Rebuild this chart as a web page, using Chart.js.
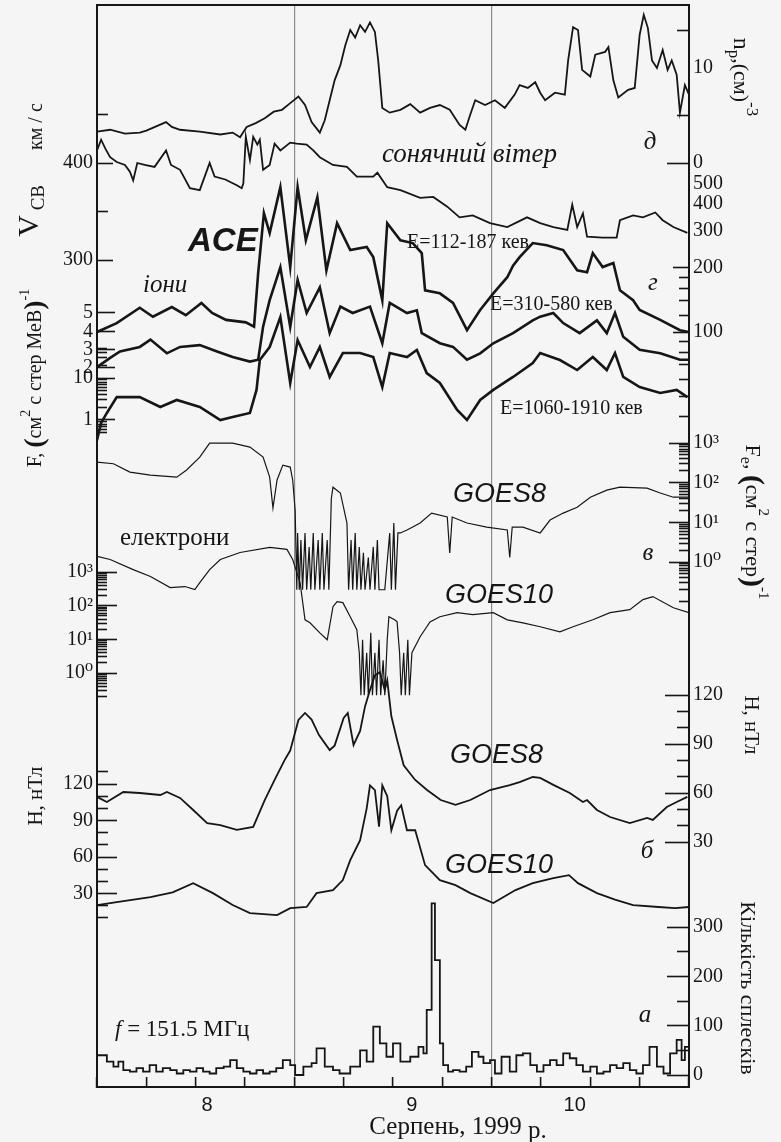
<!DOCTYPE html>
<html lang="uk">
<head>
<meta charset="UTF-8">
<title>ACE / GOES, серпень 1999</title>
<script src="https://cdn.jsdelivr.net/npm/chart.js"></script>
<style>
  body { margin: 0; background: #f5f5f5; }
  #wrap { width: 781px; height: 1142px; position: relative; }
</style>
</head>
<body>
<div id="wrap"><canvas id="grafik"></canvas></div>
<script>
// time axis: hours from the left edge of the frame (~12 UT, 7 Aug 1999)
const xTicks = [0, 6, 12, 18, 24, 30, 36, 42, 48, 54, 60, 66, 72];
const dayTicks = [13.4, 38.3, 58.1];
const dayLabels = ['8', '9', '10'];
const markerLines = [24, 48];

// д: proton density n_p, cm^-3
const npData = [[0,3.3],[1.6,3.5],[3.4,3.1],[5.2,3.2],[6,3.4],[8.4,4.3],[9.1,3.8],[10.1,3.5],[12.5,3.3],[15,3.0],[16.5,3.2],[17.4,2.7],[18.2,3.8],[19.3,4.2],[20.4,4.7],[21.5,5.4],[22.5,5.6],[23.5,6.3],[24.5,7.0],[25.3,6.1],[26.1,4.3],[27.1,3.2],[27.7,4.5],[28.3,6.6],[28.9,8.7],[29.6,10.3],[30.2,12.4],[30.8,14.0],[31.4,13.2],[32,14.5],[32.6,13.8],[33.2,14.8],[33.8,13.8],[34.2,10.8],[34.7,5.8],[35.6,5.3],[36.9,5.6],[38.1,6.2],[39.3,5.3],[40.5,5.8],[41.7,6.1],[42.9,5.6],[44.1,4.0],[44.8,3.5],[45.4,5.1],[46,6.6],[47.2,6.1],[48.4,6.6],[49.6,5.8],[50.8,7.2],[51.4,8.2],[52.4,7.9],[53.3,8.5],[53.9,7.4],[54.5,6.6],[55.7,7.4],[56.9,7.2],[57.3,10.8],[57.9,14.3],[58.5,14.0],[59,9.8],[60,9.1],[60.6,11.4],[61.8,11.7],[62.2,12.2],[62.8,8.7],[63.4,6.9],[64.6,7.7],[65.4,7.9],[66,13.5],[66.5,15.6],[67,14.2],[67.5,10.8],[68.1,10.0],[68.8,11.9],[69.4,9.8],[69.9,10.8],[70.5,9.3],[70.9,5.3],[71.5,8.2],[72,7.2]];
// solar wind speed, km/s
const vswData = [[0,413],[0.5,424],[1,415],[1.6,406],[2.4,401],[3.4,398],[4,391],[4.4,382],[4.9,400],[5.8,398],[7,396],[8.4,413],[9,398],[10.1,393],[11.3,374],[12.5,372],[13.7,400],[14.3,386],[15.6,383],[17,377],[17.6,374],[17.8,379],[18.1,427],[18.6,403],[19,427],[19.5,419],[19.8,424],[20.2,393],[21,398],[21.6,420],[22.3,413],[23.5,421],[24.3,420],[25.5,419],[26.3,413],[27.1,406],[28.7,398],[30.4,396],[31.6,386],[33.6,386],[34.1,390],[35.3,375],[36.9,372],[39.3,364],[40.9,365],[42.6,355],[44.1,344],[45.7,346],[47.8,338],[49.9,334],[52.3,344],[53.9,338],[55.5,334],[57.2,331],[57.8,357],[58.4,334],[59.1,348],[59.6,324],[61.5,323],[63.2,323],[63.6,341],[65.2,346],[66.4,344],[67.9,349],[68.8,341],[70.1,334],[71.8,328]];

// г: ACE ion fluxes
const ion112 = [[0,100],[2.4,110],[5.2,130],[6.8,118],[9.1,131],[10.8,120],[12.7,137],[14,123],[15.7,114],[18.1,111],[19.1,106],[19.6,189],[20.3,362],[21,292],[22.3,480],[23.5,202],[24.4,480],[25.4,270],[26.8,430],[27.9,195],[29.2,325],[30.8,243],[32.8,251],[33.6,225],[34.7,141],[35.3,325],[36.9,270],[38.4,262],[39.5,235],[39.9,157],[41.7,152],[43.3,137],[45,102],[46.6,127],[48.2,152],[49.9,181],[50.6,205],[51.4,225],[53,262],[54.7,256],[56.7,243],[58.4,195],[59.6,191],[60.3,235],[61.5,202],[62.8,211],[63.6,157],[65.2,141],[66,127],[68.5,114],[70.9,102],[72,100]];
const ion310 = [[0,2.05],[1.6,2.55],[2.8,2.9],[5.2,3.15],[6.5,3.55],[8.5,2.8],[10.1,3.15],[12.5,3.25],[14.6,2.9],[16.5,2.6],[18.6,2.35],[19.6,2.45],[20.2,4.25],[21,5.7],[22.3,7.5],[23.5,4.25],[24.4,6.8],[25.5,5.0],[27.1,6.4],[28.3,3.9],[29.6,5.35],[31.1,5.0],[33.2,5.35],[34.7,3.35],[35.6,5.55],[37.7,5.0],[38.9,5.15],[39.5,3.9],[41.7,3.35],[43.3,3.15],[45,2.45],[46.6,2.8],[48.2,3.35],[50.6,3.9],[53,4.6],[53.9,4.8],[55.5,5.0],[56.7,4.45],[58.7,3.9],[60.8,4.6],[62,3.9],[63,5.0],[64,3.7],[66,3.0],[68.5,2.8],[70.9,2.45],[72,2.45]];
const ion1060 = [[0,0.33],[0.5,0.85],[1.2,1.47],[2.4,3.5],[5.2,3.5],[7.7,2.04],[9.7,3.0],[12.5,2.04],[15,1.0],[16.5,1.18],[18.6,1.47],[19.4,5.2],[19.8,26.8],[21,54.6],[22.3,282],[23.5,7.6],[24.4,80],[25.9,18.3],[27.1,54.6],[28.3,10.6],[29.9,39.3],[32,39.3],[33.6,31.6],[34.7,6.1],[35.6,39.3],[37.7,31.6],[38.9,46.4],[40.1,13.1],[41.7,7.6],[43.8,1.73],[45,1.0],[46.6,3.0],[48.2,5.2],[50.6,10.6],[53,22.8],[53.9,39.3],[56.3,26.8],[58.4,15.5],[60.3,31.6],[62,15.5],[63,39.3],[64,10.6],[66,6.1],[68.5,4.4],[70.5,5.2],[71.8,3.5]];

// в: GOES electron fluxes, (cm^2 s sr)^-1
const eGoes8 = [[0,331],[2,300],[4,185],[6.5,155],[9.7,138],[10.9,209],[12.5,440],[13.7,990],[16.5,990],[18.6,790],[20.2,440],[21,138],[21.4,23],[21.9,117],[22.6,277],[23.5,247],[23.8,117],[24.1,20],[24.3,0.2],[24.4,5.4],[24.6,0.2],[24.8,3.6],[25,0.2],[25.3,5.4],[25.5,0.2],[25.8,2.4],[26,0.2],[26.3,5.4],[26.5,0.2],[26.9,3.6],[27.1,0.2],[27.4,5.4],[27.6,0.2],[28,3.6],[28.2,0.2],[28.5,40],[28.7,77],[29.6,55],[30.4,9.6],[30.6,0.2],[30.9,3.6],[31.1,0.2],[31.4,5.4],[31.6,0.2],[31.9,2.4],[32.1,0.2],[32.4,1.7],[32.6,0.2],[33,1.3],[33.2,0.2],[33.6,2.4],[33.8,0.2],[34.1,3.6],[34.3,0.2],[35,0.2],[35.6,5.4],[35.8,0.2],[36.1,9.6],[36.3,0.2],[36.6,5.4],[36.9,5.4],[37.7,6.4],[38.4,7.6],[39.3,9.6],[40.7,17.1],[42.6,13.6],[42.9,1.7],[43.2,13.6],[45,9.6],[47.4,7.6],[49.9,6.4],[50.2,1.3],[50.5,7.6],[51.8,7.6],[53.9,5.4],[55.1,11.4],[56.7,17.1],[58.4,24],[60,43],[62,65],[63.6,77],[66.9,73],[68.5,55],[70.1,43],[72,43]];
const eGoes10 = [[0,2900],[1.6,2350],[4.4,1180],[6.5,735],[8.9,345],[10.7,370],[11.9,300],[12.5,486],[13.7,1180],[15,2350],[17.4,3800],[21,5400],[23.1,4700],[23.8,2350],[24.7,486],[25.3,38],[25.9,31],[27.1,15.6],[28,9.7],[28.7,93],[29.2,132],[29.9,123],[30.8,47],[31.6,19.2],[31.9,4.0],[32.1,0.22],[32.3,9.7],[32.5,0.22],[32.8,4],[33,0.22],[33.3,15.6],[33.5,0.22],[33.8,4],[34,0.22],[34.3,9.7],[34.5,0.22],[34.8,2.4],[35,0.22],[35.3,9.7],[35.5,47],[36.2,38],[36.5,33],[36.8,4],[37,0.22],[37.3,4],[37.5,0.22],[37.8,9.7],[38,0.22],[38.3,4],[39.3,11.9],[40.5,33],[41.7,47],[43.8,62],[45.7,54],[48.2,62],[49.9,38],[51.8,31],[53.9,23.6],[56.3,16.7],[57.9,23.6],[60.3,38],[62.4,62],[64.8,76],[66.4,151],[67.6,186],[70.1,87],[72,62]];

// б: GOES magnetic field H, nT
const hGoes8 = [[0,57.6],[1.2,54.5],[3.2,60.6],[5.2,60],[7.7,58.8],[8.5,60.6],[10.1,57],[11.7,49.6],[13.4,41.6],[15,40.4],[17,37.4],[19,39.2],[20.4,55.7],[21.6,68],[22.8,80],[23.5,86],[24.5,104.7],[25.3,109],[26.1,105],[27,95.5],[28.3,86.3],[28.9,89],[30,106],[30.5,109],[31.2,89.4],[32,98],[32.6,113],[33.2,123],[33.8,132],[34.4,134],[35,123],[35.3,129],[35.8,107],[36.5,92.5],[37.3,77],[38.7,68],[40.1,62],[41.8,55.7],[43.6,52.7],[45.4,55.7],[47.8,61.8],[50.2,64.8],[51.4,66.7],[53,69.8],[53.9,69.2],[55.5,65],[57.5,60],[59.1,54.5],[59.6,55.7],[60.8,49.6],[62.4,45.3],[64.8,41.6],[66.9,44.7],[67.6,43.5],[69.3,51.4],[70.5,54.5],[71.8,57.6]];
const hGoes10 = [[0,20.5],[2.4,23],[6.5,27],[9.2,31],[11.7,38.5],[14.1,30.3],[16.5,20.5],[18.6,13.9],[21.9,12.3],[23.5,18],[25.5,18.9],[26.7,30.3],[28.7,32.8],[29.9,41],[30.8,57.4],[32,73.8],[32.8,100],[33.2,118.9],[33.8,115],[34.3,85],[34.7,118.9],[35.3,110],[35.8,82],[36.5,98],[37,102.5],[37.7,82],[38.7,82],[39.9,53.3],[41.7,41],[43.6,36.9],[45.4,30.3],[48.2,22.1],[50.9,32.8],[53,38.5],[55.5,42.6],[57.4,45.1],[58.5,38.5],[60.8,30.3],[63,25],[65.2,20.5],[68.3,18.9],[70.3,18],[72,18.9]];

// а: number of radio bursts at 151.5 MHz (value holds until the next point)
const bursts = [[0,40],[1.2,27],[2,17],[2.6,27],[3.2,10],[4,7],[4.8,14],[5.6,7],[6.4,20],[7.2,7],[8,14],[8.9,10],[9.7,3],[10.5,10],[11.3,7],[12.1,14],[12.9,7],[13.7,3],[14.5,14],[15.4,17],[16.2,30],[17,14],[17.8,7],[18.6,3],[19.4,10],[20.2,3],[21,7],[21.8,14],[22.6,30],[23.5,20],[24.1,0],[25.1,17],[26.1,24],[26.7,54],[27.7,17],[28.7,10],[29.5,3],[30.8,17],[32,50],[32.8,27],[33.6,98],[34.4,64],[35.2,37],[36,64],[36.9,27],[38.1,37],[39.1,57],[39.7,44],[40.1,132],[40.7,348],[41.1,233],[41.7,64],[42.1,20],[42.7,7],[43.3,10],[44.1,7],[44.9,17],[45.6,47],[46.4,37],[47,24],[47.8,30],[48.4,3],[49.2,37],[50.2,7],[51,40],[51.8,44],[52.7,20],[53.5,7],[54.3,20],[55.1,30],[55.9,20],[56.7,44],[57.5,34],[58.3,20],[59.1,7],[60,17],[60.8,3],[61.6,7],[62.4,20],[63.2,14],[64,24],[64.8,10],[65.6,3],[66.4,20],[67.2,57],[68.1,17],[68.9,3],[69.7,44],[70.5,71],[71.1,30],[71.5,57],[72,57]];

// tick values / labels of the many y axes
const npTicks = [0, 10], npLabels = ['0', '10'], npMinor = [5, 14];
const vTicks = [300, 400], vLabels = ['300', '400'], vMinor = [350, 450];
const i112Ticks = [100, 200, 300, 400, 500], i112Labels = ['100', '200', '300', '400', '500'];
const i112Minor = [40, 50, 60, 70, 80, 90, 120, 140, 160, 180];
const i310Ticks = [2, 3, 4, 5], i310Labels = ['2', '3', '4', '5'];
const i1060Ticks = [1, 10], i1060Labels = ['1', '10'];
const i1060Minor = [0.5, 0.6, 0.7, 0.8, 0.9, 2, 3, 4, 5, 6, 7, 8, 9, 20, 30, 40, 50];
const eTicks = [1, 10, 100, 1000], eLabels = ['10⁰', '10¹', '10²', '10³'];
const e8Minor = [0.1, 0.2, 0.3, 0.4, 0.5, 0.6, 0.7, 0.8, 0.9, 2, 3, 4, 5, 6, 7, 8, 9, 20, 30, 40, 50, 60, 70, 80, 90, 200, 300, 400, 500, 600, 700, 800, 900];
const e10Minor = [0.2, 0.3, 0.4, 0.5, 0.6, 0.7, 0.8, 0.9, 2, 3, 4, 5, 6, 7, 8, 9, 20, 30, 40, 50, 60, 70, 80, 90, 200, 300, 400, 500, 600, 700, 800, 900];
const hTicks = [30, 60, 90, 120], hLabels = ['30', '60', '90', '120'];
const h8Minor = [40, 50, 70, 80, 100, 110];
const h10Minor = [10, 20, 40, 50, 70, 80, 100, 110, 130];
const bTicks = [0, 100, 200, 300], bLabels = ['0', '100', '200', '300'], bMinor = [50, 150, 250];

const INK = '#161616';
const SERIF = '"Liberation Serif", "DejaVu Serif", serif';
const SANS = '"Liberation Sans", Arial, sans-serif';

// frame of the plot, px (layout padding makes the chart area exactly this)
const TOP = 5, BOT = 1087;
function lin(v1, y1, v2, y2) {
    const k = (y1 - y2) / (v2 - v1);
    return { min: v1 - (BOT - y1) / k, max: v1 + (y1 - TOP) / k };
}
function logr(v1, y1, v2, y2) {
    const r = lin(Math.log10(v1), y1, Math.log10(v2), y2);
    return { min: Math.pow(10, r.min), max: Math.pow(10, r.max) };
}
// all axes share the frame edge: no width of their own
function flat(s) {
    if (s.isHorizontal()) s.height = 0; else s.width = 0;
    s.paddingTop = s.paddingBottom = s.paddingLeft = s.paddingRight = 0;
}
function yAxis(side, type, range, vals, labels, len, opt) {
    opt = opt || {};
    const hide = opt.hide || [];
    return {
        type: type, position: side, min: range.min, max: range.max, bounds: 'data',
        afterBuildTicks: s => { s.ticks = vals.map(v => ({ value: v })); },
        afterFit: flat,
        grid: {
            drawOnChartArea: false, tickLength: -len, tickWidth: 1.6,
            tickColor: c => (c.tick && hide.includes(c.tick.value)) ? 'rgba(0,0,0,0)' : INK
        },
        border: { display: !!opt.frame, color: INK, width: 2 },
        ticks: {
            autoSkip: false, padding: len + 4, color: INK,
            font: { family: SERIF, size: 20 },
            callback: (v, i) => labels ? labels[i] : ''
        }
    };
}

const rNp = lin(0, 163, 10, 68);
const rV = lin(400, 163, 300, 260);
const rI112 = logr(100, 332, 200, 268);
const rI310 = lin(2, 368, 5, 313);
const rI1060 = logr(1, 420, 10, 378);
const rE8 = logr(1, 562, 1000, 443);
const rE10 = logr(1, 673, 1000, 572);
const rH8 = lin(120, 695, 30, 842);
const rH10 = lin(120, 784, 60, 857);
const rB = lin(0, 1075, 300, 927);

const scales = {
    x: {
        type: 'linear', position: 'bottom', min: 0, max: 72, bounds: 'data',
        afterBuildTicks: s => { s.ticks = xTicks.map(v => ({ value: v })); },
        afterFit: flat,
        grid: {
            color: c => (c.tick && markerLines.includes(c.tick.value)) ? '#8a8a8a' : 'rgba(0,0,0,0)',
            lineWidth: 1.2, tickLength: -10, tickColor: INK, tickWidth: 1.6
        },
        border: { display: true, color: INK, width: 2 },
        ticks: { autoSkip: false, maxRotation: 0, callback: () => '' }
    },
    xd: {
        type: 'linear', position: 'bottom', min: 0, max: 72, bounds: 'data',
        afterBuildTicks: s => { s.ticks = dayTicks.map(v => ({ value: v })); },
        afterFit: flat,
        grid: { display: false, drawTicks: false },
        border: { display: false },
        ticks: {
            autoSkip: false, maxRotation: 0, padding: 6, color: INK,
            font: { family: SANS, size: 20 },
            callback: (v, i) => dayLabels[i]
        }
    },
    xt: {
        type: 'linear', position: 'top', min: 0, max: 72, afterFit: flat,
        grid: { drawOnChartArea: false, drawTicks: false },
        border: { display: true, color: INK, width: 2 },
        ticks: { display: false }
    },
    yN: yAxis('right', 'linear', rNp, npTicks, npLabels, 22, { hide: [10], frame: true }),
    yNm: yAxis('right', 'linear', rNp, npMinor, null, 12),
    yV: yAxis('left', 'linear', rV, vTicks, vLabels, 16, { frame: true }),
    yVm: yAxis('left', 'linear', rV, vMinor, null, 11),
    yI1: yAxis('right', 'logarithmic', rI112, i112Ticks, i112Labels, 16, { hide: [300, 400, 500] }),
    yI1m: yAxis('right', 'logarithmic', rI112, i112Minor, null, 10),
    yI2: yAxis('left', 'linear', rI310, i310Ticks, i310Labels, 18),
    yI3: yAxis('left', 'logarithmic', rI1060, i1060Ticks, i1060Labels, 18),
    yI3m: yAxis('left', 'logarithmic', rI1060, i1060Minor, null, 10),
    yE8: yAxis('right', 'logarithmic', rE8, eTicks, eLabels, 20),
    yE8m: yAxis('right', 'logarithmic', rE8, e8Minor, null, 10),
    yE10: yAxis('left', 'logarithmic', rE10, eTicks, eLabels, 20),
    yE10m: yAxis('left', 'logarithmic', rE10, e10Minor, null, 10),
    yH8: yAxis('right', 'linear', rH8, hTicks, hLabels, 24),
    yH8m: yAxis('right', 'linear', rH8, h8Minor, null, 12),
    yH10: yAxis('left', 'linear', rH10, hTicks, hLabels, 20),
    yH10m: yAxis('left', 'linear', rH10, h10Minor, null, 11),
    yB: yAxis('right', 'linear', rB, bTicks, bLabels, 22),
    yBm: yAxis('right', 'linear', rB, bMinor, null, 12)
};

function series(pairs, axis, width, extra) {
    return Object.assign({
        data: pairs.map(p => ({ x: p[0], y: p[1] })),
        yAxisID: axis, borderColor: INK, borderWidth: width,
        pointRadius: 0, tension: 0, fill: false
    }, extra || {});
}

// texts inside and around the frame: [text, font, baseline shift]
const notes = [
    { x: 30, y: 170, rot: -1, parts: [['V', '30px ' + SERIF, 0], [' СВ', '19px ' + SERIF, 9], ['       км / с', '20px ' + SERIF, 7]] },
    { x: 36, y: 378, rot: -1, parts: [['F, ', '20px ' + SERIF, 0], ['(', 'bold 28px ' + SERIF, 0], ['см', '20px ' + SERIF, 0], ['2', '14px ' + SERIF, -10], [' с стер МеВ', '20px ' + SERIF, 0], [')', 'bold 28px ' + SERIF, 0], ['-1', '14px ' + SERIF, -11]] },
    { x: 36, y: 796, rot: -1, parts: [['Н, нТл', '21px ' + SERIF, 0]] },
    { x: 740, y: 77, rot: 1, parts: [['n', '24px ' + SERIF, 0], ['p', '17px ' + SERIF, 7], [',(см)', '22px ' + SERIF, 0], ['-3', '17px ' + SERIF, -11]] },
    { x: 752, y: 522, rot: 1, parts: [['F', '22px ' + SERIF, 0], ['e', '16px ' + SERIF, 7], [', ', '22px ' + SERIF, 0], ['(', 'bold 30px ' + SERIF, 0], ['см', '22px ' + SERIF, 0], ['2', '15px ' + SERIF, -11], [' с стер', '22px ' + SERIF, 0], [')', 'bold 30px ' + SERIF, 0], ['-1', '15px ' + SERIF, -11]] },
    { x: 751, y: 725, rot: 1, parts: [['Н, нТл', '21px ' + SERIF, 0]] },
    { x: 747, y: 988, rot: 1, parts: [['Кількість сплесків', '22px ' + SERIF, 0]] },
    { x: 458, y: 1127, parts: [['Серпень, 1999', '25px ' + SERIF, 0], [' р.', '25px ' + SERIF, 4]] },
    { x: 382, y: 155, align: 'left', parts: [['сонячний вітер', 'italic 27px ' + SERIF, 0]] },
    { x: 650, y: 142, parts: [['д', 'italic 25px ' + SERIF, 0]] },
    { x: 653, y: 283, parts: [['г', 'italic 25px ' + SERIF, 0]] },
    { x: 648, y: 553, parts: [['в', 'italic 25px ' + SERIF, 0]] },
    { x: 647, y: 851, parts: [['б', 'italic 25px ' + SERIF, 0]] },
    { x: 645, y: 1015, parts: [['а', 'italic 25px ' + SERIF, 0]] },
    { x: 188, y: 242, align: 'left', parts: [['ACE', 'bold italic 33px ' + SANS, 0]] },
    { x: 143, y: 285, align: 'left', parts: [['іони', 'italic 25px ' + SERIF, 0]] },
    { x: 407, y: 243, align: 'left', parts: [['E=112-187 кев', '20px ' + SERIF, 0]] },
    { x: 490, y: 305, align: 'left', parts: [['E=310-580 кев', '20px ' + SERIF, 0]] },
    { x: 500, y: 409, align: 'left', parts: [['E=1060-1910 кев', '20px ' + SERIF, 0]] },
    { x: 453, y: 494, align: 'left', parts: [['GOES8', 'italic 27px ' + SANS, 0]] },
    { x: 445, y: 595, align: 'left', parts: [['GOES10', 'italic 27px ' + SANS, 0]] },
    { x: 450, y: 755, align: 'left', parts: [['GOES8', 'italic 27px ' + SANS, 0]] },
    { x: 445, y: 865, align: 'left', parts: [['GOES10', 'italic 27px ' + SANS, 0]] },
    { x: 120, y: 538, align: 'left', parts: [['електрони', '25px ' + SERIF, 0]] },
    { x: 115, y: 1030, align: 'left', parts: [['f', 'italic 23px ' + SERIF, 0], [' = 151.5 МГц', '23px ' + SERIF, 0]] }
];

function drawNote(ctx, n) {
    ctx.save();
    ctx.translate(n.x, n.y);
    if (n.rot) ctx.rotate(n.rot * Math.PI / 2);
    let w = 0;
    const widths = n.parts.map(p => { ctx.font = p[1]; const m = ctx.measureText(p[0]).width; w += m; return m; });
    let cx = n.align === 'left' ? 0 : -w / 2;
    ctx.textAlign = 'left';
    ctx.textBaseline = 'middle';
    n.parts.forEach((p, i) => {
        ctx.font = p[1];
        ctx.fillText(p[0], cx, p[2]);
        cx += widths[i];
    });
    ctx.restore();
}

const notesPlugin = {
    id: 'notes',
    // axes were squeezed to zero size; widen their boxes outward again so
    // Chart.js does not clip the tick labels away
    afterLayout(chart) {
        Object.values(chart.scales).forEach(s => {
            const pos = s.options.position;
            if (pos === 'left') s.left = 0;
            else if (pos === 'right') s.right = chart.width;
            else if (pos === 'bottom') s.bottom = chart.height;
            else if (pos === 'top') s.top = 0;
        });
    },
    afterDraw(chart) {
        const ctx = chart.ctx;
        ctx.save();
        ctx.fillStyle = INK;
        notes.forEach(n => drawNote(ctx, n));
        ctx.restore();
    }
};

new Chart(document.getElementById('grafik'), {
    type: 'line',
    data: {
        datasets: [
            series(npData, 'yN', 1.8),
            series(vswData, 'yV', 1.8),
            series(ion112, 'yI1', 2.6),
            series(ion310, 'yI2', 2.6),
            series(ion1060, 'yI3', 2.6),
            series(eGoes8, 'yE8', 1.2),
            series(eGoes10, 'yE10', 1.2),
            series(hGoes8, 'yH8', 1.8),
            series(hGoes10, 'yH10', 1.8),
            series(bursts, 'yB', 1.8, { stepped: 'before' })
        ]
    },
    options: {
        responsive: true,
        maintainAspectRatio: false,
        animation: false,
        events: [],
        layout: { padding: { left: 97, right: 92, top: TOP, bottom: 1142 - BOT } },
        plugins: { legend: { display: false }, tooltip: { enabled: false } },
        scales: scales
    },
    plugins: [notesPlugin]
});
</script>
</body>
</html>
